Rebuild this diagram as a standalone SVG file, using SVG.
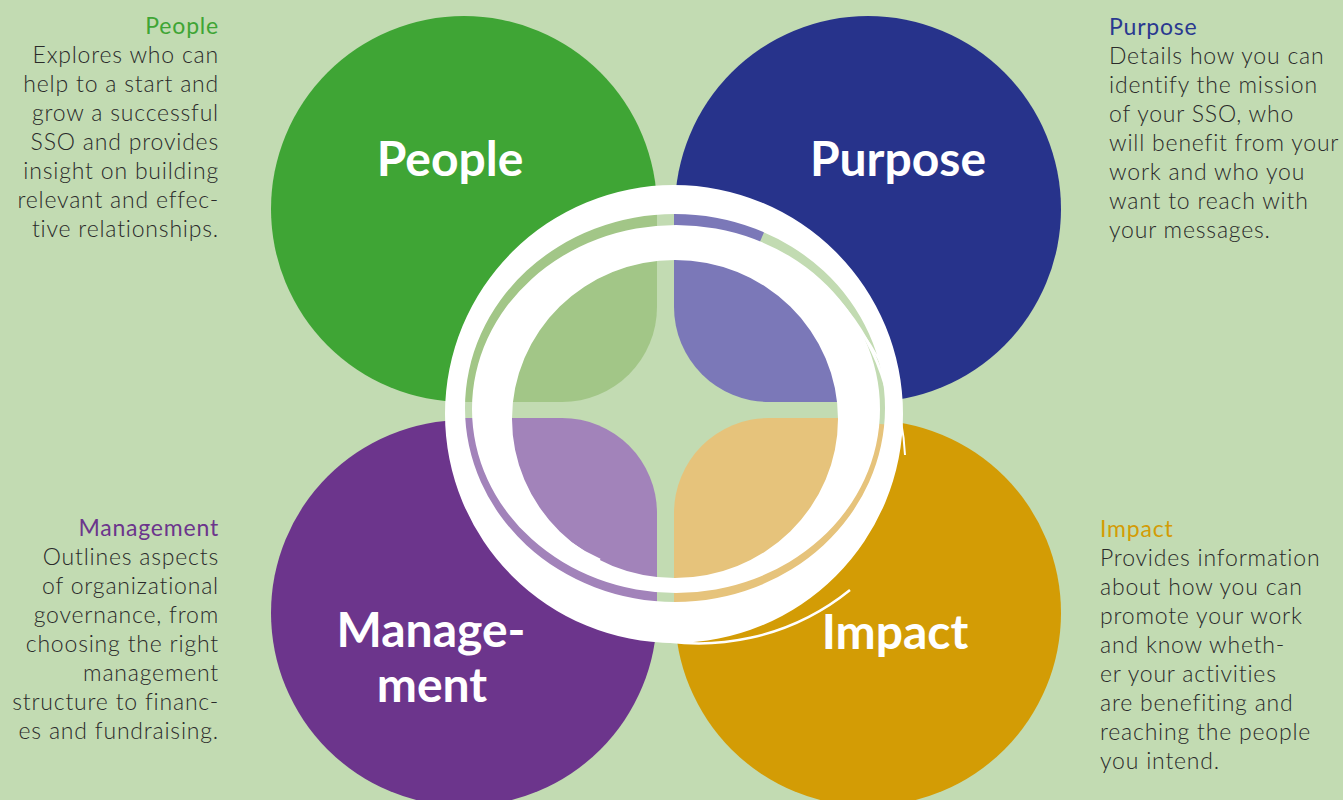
<svg xmlns="http://www.w3.org/2000/svg" width="1343" height="800" viewBox="0 0 1343 800">
<defs>
<style>
.body{font-family:Lato,"Open Sans","Liberation Sans",sans-serif;font-weight:300;font-size:23px;letter-spacing:0.8px;fill:#2a2a2a}
.head{font-family:Lato,"Open Sans","Liberation Sans",sans-serif;font-weight:400;font-size:23px;letter-spacing:0.8px}
.label{font-family:Lato,"Open Sans","Liberation Sans",sans-serif;font-weight:700;font-size:48px;fill:#ffffff;text-anchor:middle}
.r{text-anchor:end}
.strand{fill:none;stroke:#ffffff}
</style>
<clipPath id="inner">
<ellipse cx="675" cy="408" rx="211" ry="195"/>
</clipPath>
</defs>
<rect x="0" y="0" width="1343" height="800" fill="#c2dbb2"/>

<g id="people">
<path d="M657 402 L464 402 A193 193 0 0 1 271 209 A193 193 0 0 1 464 16 A193 193 0 0 1 657 209 Z" fill="#3fa535"/>
<text class="label" x="450" y="176">People</text>
</g>
<g id="purpose">
<path d="M675 402 L675 209 A193 193 0 0 1 868 16 A193 193 0 0 1 1061 209 A193 193 0 0 1 868 402 Z" fill="#27338b"/>
<text class="label" x="898" y="176">Purpose</text>
</g>
<g id="management">
<path d="M657 420 L657 613 A193 193 0 0 1 464 806 A193 193 0 0 1 271 613 A193 193 0 0 1 464 420 Z" fill="#6c358c"/>
<text class="label" x="431" y="647">Manage-</text>
<text class="label" x="432" y="702">ment</text>
</g>
<g id="impact">
<path d="M675 420 L868 420 A193 193 0 0 1 1061 613 A193 193 0 0 1 868 806 A193 193 0 0 1 675 613 Z" fill="#d39c05"/>
<text class="label" x="895" y="649">Impact</text>
</g>

<g id="center">
<g clip-path="url(#inner)">
<rect x="440" y="190" width="480" height="460" fill="#c2dbb2"/>
<path d="M657 150 L657 307 A95 95 0 0 1 562 402 L430 402 L430 150 Z" fill="#a2c687"/>
<path d="M674 150 L920 150 L920 402 L769 402 A95 95 0 0 1 674 307 Z" fill="#7b78b8"/>
<path d="M430 418 L562 418 A95 95 0 0 1 657 513 L657 700 L430 700 Z" fill="#a283ba"/>
<path d="M674 513 A95 95 0 0 1 769 418 L920 418 L920 700 L674 700 Z" fill="#e6c37b"/>
<path d="M762 237 A207 189 0 0 1 881 424" fill="none" stroke="#c2dbb2" stroke-width="12"/>
</g>
<path fill="#ffffff" fill-rule="evenodd" d="M445 414 A229 229 0 1 0 903 414 A229 229 0 1 0 445 414 Z M465 408 A210 194 0 1 0 885 408 A210 194 0 1 0 465 408 Z"/>
<path fill="#ffffff" fill-rule="evenodd" d="M472 409 A204 184 0 1 0 880 409 A204 184 0 1 0 472 409 Z M512 419 A163 159 0 1 0 838 419 A163 159 0 1 0 512 419 Z"/>
<path class="strand" stroke-width="2.5" d="M510 462 A168 162 0 0 0 600 560"/>
<path class="strand" stroke-width="3" d="M780 262 A200 195 0 0 1 856 400"/>
<path class="strand" stroke-width="3" d="M830 292 A215 215 0 0 1 892 470"/>
<path class="strand" stroke-width="2.5" d="M640 636 A240 240 0 0 0 850 590"/>
<path class="strand" stroke-width="2" d="M860 330 A226 226 0 0 1 905 455"/>
</g>

<g id="people-text">
<text class="head r" x="219" y="34" fill="#3fa535">People</text>
<text class="body r" x="219" y="63">Explores who can</text>
<text class="body r" x="219" y="92">help to a start and</text>
<text class="body r" x="219" y="121">grow a successful</text>
<text class="body r" x="219" y="150">SSO and provides</text>
<text class="body r" x="219" y="179">insight on building</text>
<text class="body r" x="219" y="208">relevant and effec-</text>
<text class="body r" x="219" y="237">tive relationships.</text>
</g>
<g id="purpose-text">
<text class="head" x="1109" y="35" fill="#2a3990">Purpose</text>
<text class="body" x="1109" y="64">Details how you can</text>
<text class="body" x="1109" y="93">identify the mission</text>
<text class="body" x="1109" y="122">of your SSO, who</text>
<text class="body" x="1109" y="151">will benefit from your</text>
<text class="body" x="1109" y="180">work and who you</text>
<text class="body" x="1109" y="209">want to reach with</text>
<text class="body" x="1109" y="238">your messages.</text>
</g>
<g id="management-text">
<text class="head r" x="219" y="536" fill="#6c358c">Management</text>
<text class="body r" x="219" y="565">Outlines aspects</text>
<text class="body r" x="219" y="594">of organizational</text>
<text class="body r" x="219" y="623">governance, from</text>
<text class="body r" x="219" y="652">choosing the right</text>
<text class="body r" x="219" y="681">management</text>
<text class="body r" x="219" y="710">structure to financ-</text>
<text class="body r" x="219" y="739">es and fundraising.</text>
</g>
<g id="impact-text">
<text class="head" x="1100" y="537" fill="#d39c05">Impact</text>
<text class="body" x="1100" y="566">Provides information</text>
<text class="body" x="1100" y="595">about how you can</text>
<text class="body" x="1100" y="624">promote your work</text>
<text class="body" x="1100" y="653">and know wheth-</text>
<text class="body" x="1100" y="682">er your activities</text>
<text class="body" x="1100" y="711">are benefiting and</text>
<text class="body" x="1100" y="740">reaching the people</text>
<text class="body" x="1100" y="769">you intend.</text>
</g>
</svg>
